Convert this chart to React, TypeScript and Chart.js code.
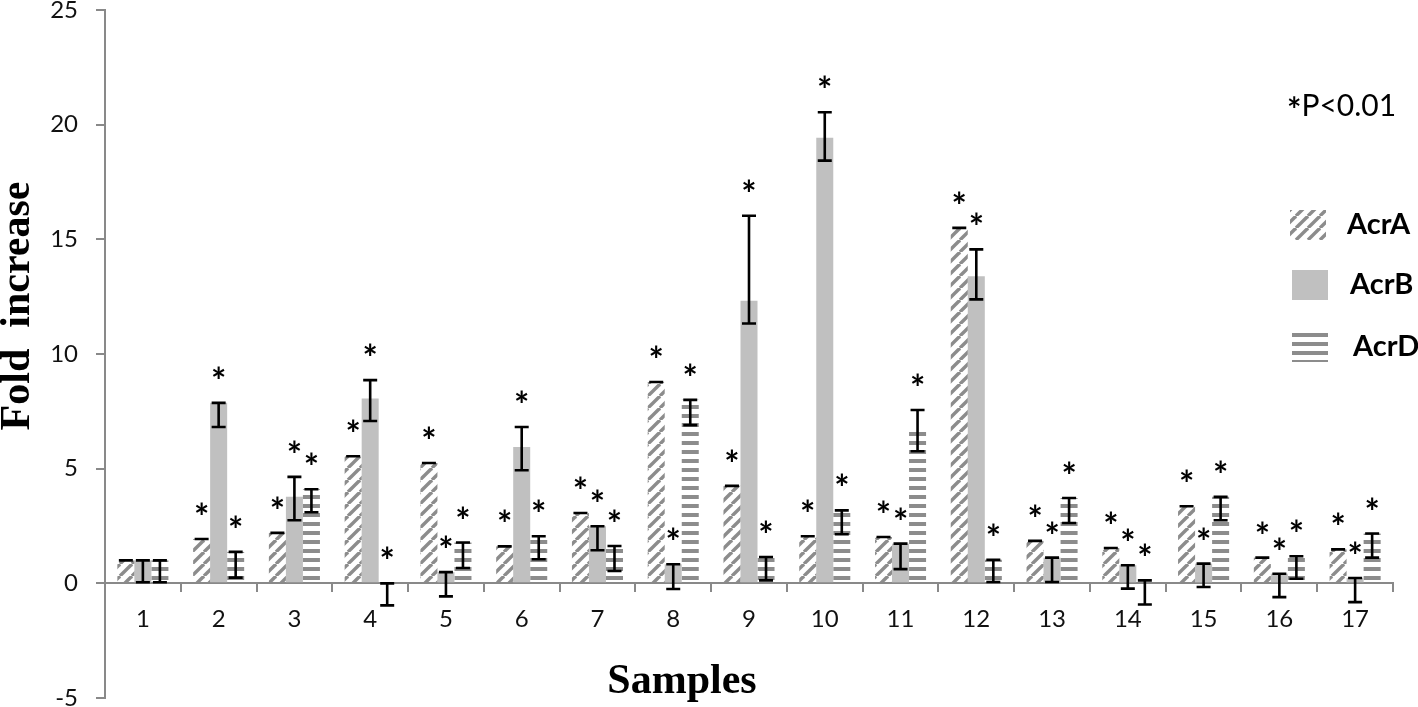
import React, { useEffect, useRef } from 'react';
import { Chart, registerables } from 'chart.js';

Chart.register(...registerables);

// ---------------- data ----------------
const SAMPLES = ['1', '2', '3', '4', '5', '6', '7', '8', '9', '10', '11', '12', '13', '14', '15', '16', '17'];
const SERIES = ['AcrA', 'AcrB', 'AcrD'];

const ACRA = [1.0, 1.93, 2.2, 5.54, 5.25, 1.61, 3.07, 8.78, 4.25, 2.05, 2.02, 15.5, 1.85, 1.54, 3.36, 1.12, 1.48];
const ACRA_ERR_UP = [0, 0, 0, 0, 0, 0, 0, 0, 0, 0, 0, 0, 0, 0, 0, 0, 0];
const ACRA_ERR_DOWN = [0, 0, 0, 0, 0, 0, 0, 0, 0, 0, 0, 0, 0, 0, 0, 0, 0];

const ACRB = [1.0, 7.87, 3.77, 8.06, 0.49, 5.95, 2.49, 0.83, 12.32, 19.43, 1.73, 13.39, 1.12, 0.79, 0.86, 0.42, 0.23];
const ACRB_ERR_UP = [0, 0, 0.87, 0.8, 0, 0.87, 0, 0, 3.71, 1.11, 0, 1.17, 0, 0, 0, 0, 0];
const ACRB_ERR_DOWN = [0.95, 1.05, 1.02, 0.98, 1.06, 1.02, 1.05, 1.08, 0.99, 1.0, 1.11, 1.01, 1.06, 1.02, 1.02, 1.02, 1.05];

const ACRD = [1.0, 1.37, 4.1, 0, 1.78, 2.05, 1.63, 8.0, 1.15, 3.18, 6.7, 1.03, 3.72, 0.13, 3.77, 1.18, 2.17];
const ACRD_ERR_UP = [0, 0, 0, 0, 0, 0, 0, 0, 0, 0, 0.86, 0, 0, 0, 0, 0, 0];
const ACRD_ERR_DOWN = [0.95, 1.12, 1.0, 0.96, 1.11, 1.0, 1.09, 1.1, 1.02, 1.04, 0.94, 0.97, 1.09, 1.05, 1.02, 0.98, 1.05];

const SIGNIFICANT = [false, true, true, true, true, true, true, true, true, true, true, true, true, true, true, true, true];

const Y_TICKS = [-5, 0, 5, 10, 15, 20, 25];
const X_TITLE = 'Samples';
const Y_TITLE = 'Fold  increase';
const NOTE_STAR = '*';
const NOTE_TEXT = 'P<0.01';

// ---------------- styles ----------------
const AXIS_COLOR = '#898989';
const STRIPE_COLOR = '#8c8c8c';
const SOLID_COLOR = '#c0c0c0';
const SANS = 'Lato, "Open Sans", sans-serif';
const SERIF = '"Liberation Serif", "DejaVu Serif", serif';

function makeDiagonalPattern(ctx: CanvasRenderingContext2D): CanvasPattern {
  const s = 12;
  const c = document.createElement('canvas');
  c.width = s;
  c.height = s;
  const g = c.getContext('2d')!;
  g.strokeStyle = STRIPE_COLOR;
  g.lineWidth = 3.4;
  for (let k = -1; k <= 1; k++) {
    g.beginPath();
    g.moveTo(k * s, s);
    g.lineTo(k * s + s, 0);
    g.stroke();
  }
  return ctx.createPattern(c, 'repeat')!;
}

function makeHorizontalPattern(ctx: CanvasRenderingContext2D): CanvasPattern {
  const c = document.createElement('canvas');
  c.width = 9;
  c.height = 9;
  const g = c.getContext('2d')!;
  g.fillStyle = STRIPE_COLOR;
  g.fillRect(0, 0, 9, 4);
  return ctx.createPattern(c, 'repeat')!;
}

export default function App() {
  const canvasRef = useRef<HTMLCanvasElement | null>(null);

  useEffect(() => {
    const canvas = canvasRef.current;
    if (!canvas) return;
    const ctx = canvas.getContext('2d')!;
    const diag = makeDiagonalPattern(ctx);
    const horiz = makeHorizontalPattern(ctx);
    const fills = [diag, SOLID_COLOR, horiz];
    const errUp = [ACRA_ERR_UP, ACRB_ERR_UP, ACRD_ERR_UP];
    const errDown = [ACRA_ERR_DOWN, ACRB_ERR_DOWN, ACRD_ERR_DOWN];

    const errorBarsPlugin = {
      id: 'errorBars',
      afterDatasetsDraw(chart: any) {
        const c = chart.ctx as CanvasRenderingContext2D;
        const y = chart.scales.y;
        c.save();
        chart.data.datasets.forEach((ds: any, i: number) => {
          const meta = chart.getDatasetMeta(i);
          meta.data.forEach((bar: any, j: number) => {
            const v = ds.data[j] as number;
            const yt = y.getPixelForValue(v + errUp[i][j]);
            const yb = y.getPixelForValue(v - errDown[i][j]);
            const x = bar.x;
            c.strokeStyle = '#000';
            c.lineWidth = 2.6;
            c.beginPath();
            c.moveTo(x, yt);
            c.lineTo(x, yb);
            c.moveTo(x - 7, yt);
            c.lineTo(x + 7, yt);
            c.moveTo(x - 7, yb);
            c.lineTo(x + 7, yb);
            c.stroke();
            if (SIGNIFICANT[j]) {
              c.fillStyle = '#000';
              c.font = 'bold 36px ' + SANS;
              c.textAlign = 'center';
              c.textBaseline = 'alphabetic';
              c.fillText('*', x, yt - 9);
            }
          });
        });
        c.restore();
      },
    };

    const decorPlugin = {
      id: 'decor',
      afterDraw(chart: any) {
        const c = chart.ctx as CanvasRenderingContext2D;
        const area = chart.chartArea;
        c.save();
        // axis titles
        c.fillStyle = '#000';
        c.font = 'bold 42px ' + SERIF;
        c.textAlign = 'center';
        c.textBaseline = 'alphabetic';
        c.fillText(X_TITLE, (area.left + area.right) / 2 - 67, 693);
        c.save();
        c.translate(18, 306);
        c.rotate(-Math.PI / 2);
        c.textBaseline = 'middle';
        c.fillText(Y_TITLE, 0, 0);
        c.restore();

        // significance note
        c.textAlign = 'left';
        c.textBaseline = 'alphabetic';
        c.font = 'bold 34px ' + SANS;
        c.fillText(NOTE_STAR, 1287, 122);
        const sw = c.measureText(NOTE_STAR).width;
        c.font = '30px ' + SANS;
        c.fillText(NOTE_TEXT, 1287 + sw, 116);

        // legend
        const boxes = [
          { x: 1290, y: 210, tx: 1347, ty: 225 },
          { x: 1292, y: 270, tx: 1350, ty: 285 },
          { x: 1292, y: 332, tx: 1353, ty: 347 },
        ];
        chart.data.datasets.forEach((ds: any, i: number) => {
          const b = boxes[i];
          c.fillStyle = fills[i] as any;
          c.fillRect(b.x, b.y, 36, 30);
          c.fillStyle = '#000';
          c.font = 'bold 29px ' + SANS;
          c.textBaseline = 'middle';
          c.fillText(ds.label, b.tx, b.ty);
        });
        c.restore();
      },
    };

    const chart = new Chart(canvas, {
      type: 'bar',
      data: {
        labels: SAMPLES,
        datasets: [
          { label: SERIES[0], data: ACRA, backgroundColor: diag as any, borderWidth: 0 },
          { label: SERIES[1], data: ACRB, backgroundColor: SOLID_COLOR, borderWidth: 0 },
          { label: SERIES[2], data: ACRD, backgroundColor: horiz as any, borderWidth: 0 },
        ],
      },
      options: {
        responsive: false,
        animation: false,
        devicePixelRatio: 1,
        layout: { padding: { left: 0, top: 10, right: 25, bottom: 9 } },
        datasets: { bar: { barPercentage: 1, categoryPercentage: 0.674 } },
        plugins: {
          legend: { display: false },
          tooltip: { enabled: false },
          title: { display: false },
        },
        scales: {
          x: {
            type: 'category',
            position: { y: 0 } as any,
            offset: true,
            grid: {
              display: true,
              drawOnChartArea: false,
              drawTicks: true,
              tickLength: 8,
              offset: true,
              color: AXIS_COLOR,
              lineWidth: 2,
            },
            border: { display: true, color: AXIS_COLOR, width: 2 },
            ticks: { font: { family: SANS, size: 24 }, color: '#111', padding: 14, maxRotation: 0, autoSkip: false },
            afterFit: (s: any) => {
              s.height = 0;
              s.paddingLeft = 0;
              s.paddingRight = 0;
            },
          } as any,
          y: {
            min: Y_TICKS[0],
            max: Y_TICKS[Y_TICKS.length - 1],
            grid: {
              display: true,
              drawOnChartArea: false,
              drawTicks: true,
              tickLength: 9,
              color: AXIS_COLOR,
              lineWidth: 2,
            },
            border: { display: true, color: AXIS_COLOR, width: 2 },
            ticks: { stepSize: Y_TICKS[1] - Y_TICKS[0], font: { family: SANS, size: 24 }, color: '#111', padding: 18 },
            afterBuildTicks: (s: any) => {
              s.ticks = Y_TICKS.map((v) => ({ value: v }));
            },
            afterFit: (s: any) => {
              s.width = 105;
              s.paddingTop = 0;
              s.paddingBottom = 0;
            },
          } as any,
        },
      },
      plugins: [errorBarsPlugin, decorPlugin],
    });

    return () => chart.destroy();
  }, []);

  return (
    <div style={{ position: 'absolute', left: 0, top: 0, width: 1418, height: 707, background: '#fff' }}>
      <canvas ref={canvasRef} width={1418} height={707} />
    </div>
  );
}
